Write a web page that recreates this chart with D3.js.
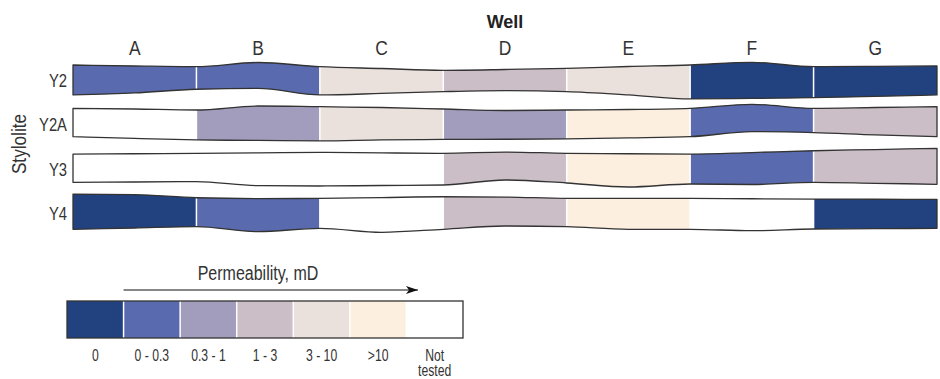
<!DOCTYPE html>
<html>
<head>
<meta charset="utf-8">
<script src="https://cdn.jsdelivr.net/npm/d3@7"></script>
<style>
  body { margin: 0; background: #fff; }
  text { font-family: "Liberation Sans", Arial, sans-serif; fill: #333; }
</style>
</head>
<body>
<div id="chart"></div>
<script>
// wells (columns) and stylolites (rows)
var wells = ["A", "B", "C", "D", "E", "F", "G"];
var stylolites = ["Y2", "Y2A", "Y3", "Y4"];

// permeability classes, mD
var classes = ["0", "0 - 0.3", "0.3 - 1", "1 - 3", "3 - 10", ">10", "Not tested"];
var classColors = ["#22427f", "#5a6aae", "#a29dbd", "#cbbec6", "#ebe1dc", "#fcefe0", "#ffffff"];

// class of each well, per stylolite
var permY2  = ["0 - 0.3", "0 - 0.3", "3 - 10", "1 - 3", "3 - 10", "0", "0"];
var permY2A = ["Not tested", "0.3 - 1", "3 - 10", "0.3 - 1", ">10", "0 - 0.3", "1 - 3"];
var permY3  = ["Not tested", "Not tested", "Not tested", "1 - 3", ">10", "0 - 0.3", "1 - 3"];
var permY4  = ["0", "0 - 0.3", "Not tested", "1 - 3", ">10", "Not tested", "0"];
var perms = [permY2, permY2A, permY3, permY4];

// wavy outline of each stylolite band: offsets (px) at every half column
var topWave = [
    [0, 1, 1.7, -2.5, 1.7, 3.5, 5.3, 4.5, 3.3, 1.5, 0, -2.7, 1.7, 1.3, 1],
    [-0.7, 0, 1, -3, -2.3, -1.5, 0, 1.5, 1, 0.5, -0.7, -4.7, -0.7, -1.5, -2.3],
    [1, 0.7, 0.3, -0.2, -0.7, -0.2, 0.3, -1, 0.3, 0.7, 1, -0.5, -2.3, -3.5, -4.7],
    [-3, -2.5, 0.7, 1.5, 1.3, 0.5, -0.3, 0, 1.3, 1.3, 1.3, 1.7, 2, 2.2, 2.3]
];
var bottomWave = [
    [0, -2, -5.7, -6.5, 0, -1.5, -3.3, -4.3, -3.3, 0, 4, 3.5, 2.7, 1.5, 0],
    [-2.3, -0.5, 1, 1.5, 2, 1, 0.5, 0.3, 0, -1, -2.3, -7.3, -6.3, -4, -2.3],
    [-0.7, -1, -1.3, 2.7, 3, 2.5, 2, -3, 0, 4, 1, 1.5, -0.7, 0.3, 1.3],
    [2.3, 1, -0.3, 4.7, 1.3, 5.3, 2.3, -1, -0.3, 2.3, 2.3, 3.7, 2, 1.7, 1.3]
];

var width = 940, height = 379;

// condensed-looking text: place at (tx,ty) and squeeze horizontally
function squeeze(tx, ty, k, extra) {
    return "translate(" + tx + "," + ty + ")" + (extra || "") + " scale(" + k + ",1)";
}

var svg = d3.select("#chart").append("svg")
    .attr("width", width)
    .attr("height", height);

var defs = svg.append("defs");

var x = d3.scaleLinear().domain([0, wells.length]).range([73, 937]);
var y = d3.scaleBand().domain(stylolites).range([65, 227]).paddingInner(0.32);
var color = d3.scaleOrdinal().domain(classes).range(classColors);

// title
svg.append("text")
    .attr("x", (x.range()[0] + x.range()[1]) / 2)
    .attr("y", 28)
    .attr("text-anchor", "middle")
    .style("font-weight", "bold")
    .style("font-size", "18px")
    .style("fill", "#222")
    .text("Well");

// well labels
svg.selectAll(".well-label")
    .data(wells)
    .enter()
    .append("text")
    .attr("class", "well-label")
    .attr("transform", function(d, i) { return squeeze(x(i + 0.5), 55, 0.85); })
    .attr("text-anchor", "middle")
    .style("font-size", "20.5px")
    .text(function(d) { return d; });

// stylolite labels
svg.selectAll(".row-label")
    .data(stylolites)
    .enter()
    .append("text")
    .attr("class", "row-label")
    .attr("transform", function(d) { return squeeze(67, y(d) + y.bandwidth() / 2 + 7.5, 0.8); })
    .attr("text-anchor", "end")
    .style("font-size", "18.5px")
    .text(function(d) { return d; });

svg.append("text")
    .attr("transform", squeeze(25.5, 144, 0.86, " rotate(-90)"))
    .attr("text-anchor", "middle")
    .style("font-size", "20px")
    .text("Stylolite");

// bands
var edge = d3.line().curve(d3.curveMonotoneX);

stylolites.forEach(function(name, r) {
    var top = topWave[r].map(function(o, k) { return [x(k / 2), y(name) + o]; });
    var bot = bottomWave[r].map(function(o, k) { return [x(k / 2), y(name) + y.bandwidth() + o]; });
    var botRev = edge(bot.slice().reverse());
    var closed = edge(top) + "L" + botRev.slice(1) + "Z";

    defs.append("clipPath")
        .attr("id", "clip" + r)
        .append("path")
        .attr("d", closed);

    var g = svg.append("g").attr("clip-path", "url(#clip" + r + ")");

    g.selectAll("rect")
        .data(perms[r])
        .enter()
        .append("rect")
        .attr("x", function(d, i) { return x(i); })
        .attr("y", y(name) - 15)
        .attr("width", x(1) - x(0))
        .attr("height", y.bandwidth() + 30)
        .attr("fill", function(d) { return color(d); });

    g.selectAll("line")
        .data(d3.range(1, wells.length))
        .enter()
        .append("line")
        .attr("x1", function(d) { return x(d); })
        .attr("x2", function(d) { return x(d); })
        .attr("y1", y(name) - 15)
        .attr("y2", y(name) + y.bandwidth() + 15)
        .attr("stroke", "#fff")
        .attr("stroke-width", 1.5);

    svg.append("path")
        .attr("d", closed)
        .attr("fill", "none")
        .attr("stroke", "#333")
        .attr("stroke-width", 1.3)
        .attr("stroke-linejoin", "round");
});

// legend
var lx = d3.scaleBand().domain(classes).range([67, 463]);
var legTop = 301, legH = 37;

svg.selectAll(".leg-cell")
    .data(classes)
    .enter()
    .append("rect")
    .attr("class", "leg-cell")
    .attr("x", function(d) { return lx(d); })
    .attr("y", legTop)
    .attr("width", lx.bandwidth())
    .attr("height", legH)
    .attr("fill", function(d) { return color(d); });

svg.selectAll(".leg-sep")
    .data(classes.slice(1))
    .enter()
    .append("line")
    .attr("class", "leg-sep")
    .attr("x1", function(d) { return lx(d); })
    .attr("x2", function(d) { return lx(d); })
    .attr("y1", legTop)
    .attr("y2", legTop + legH)
    .attr("stroke", "#fff")
    .attr("stroke-width", 1.5);

svg.append("rect")
    .attr("x", lx.range()[0])
    .attr("y", legTop)
    .attr("width", lx.range()[1] - lx.range()[0])
    .attr("height", legH)
    .attr("fill", "none")
    .attr("stroke", "#333")
    .attr("stroke-width", 1.3);

svg.selectAll(".leg-label")
    .data(classes)
    .enter()
    .append("text")
    .attr("class", "leg-label")
    .attr("transform", function(d) { return squeeze(lx(d) + lx.bandwidth() / 2, 361, 0.74); })
    .attr("text-anchor", "middle")
    .style("font-size", "16.5px")
    .each(function(d) {
        var parts = d === "Not tested" ? ["Not", "tested"] : [d];
        var t = d3.select(this);
        parts.forEach(function(s, k) {
            t.append("tspan")
                .attr("x", 0)
                .attr("dy", k === 0 ? 0 : 15)
                .text(s);
        });
    });

// arrow
defs.append("marker")
    .attr("id", "arrow")
    .attr("viewBox", "0 0 12 8")
    .attr("refX", 12)
    .attr("refY", 4)
    .attr("markerWidth", 13)
    .attr("markerHeight", 8)
    .attr("markerUnits", "userSpaceOnUse")
    .attr("orient", "auto")
    .append("path")
    .attr("d", "M0,0L12,4L0,8L3,4Z")
    .attr("fill", "#111");

svg.append("line")
    .attr("x1", lx(classes[1]))
    .attr("x2", 418)
    .attr("y1", 290)
    .attr("y2", 290)
    .attr("stroke", "#111")
    .attr("stroke-width", 1.2)
    .attr("marker-end", "url(#arrow)");

svg.append("text")
    .attr("transform", squeeze(258, 279.5, 0.8))
    .attr("text-anchor", "middle")
    .style("font-size", "20px")
    .text("Permeability, mD");
</script>
</body>
</html>
